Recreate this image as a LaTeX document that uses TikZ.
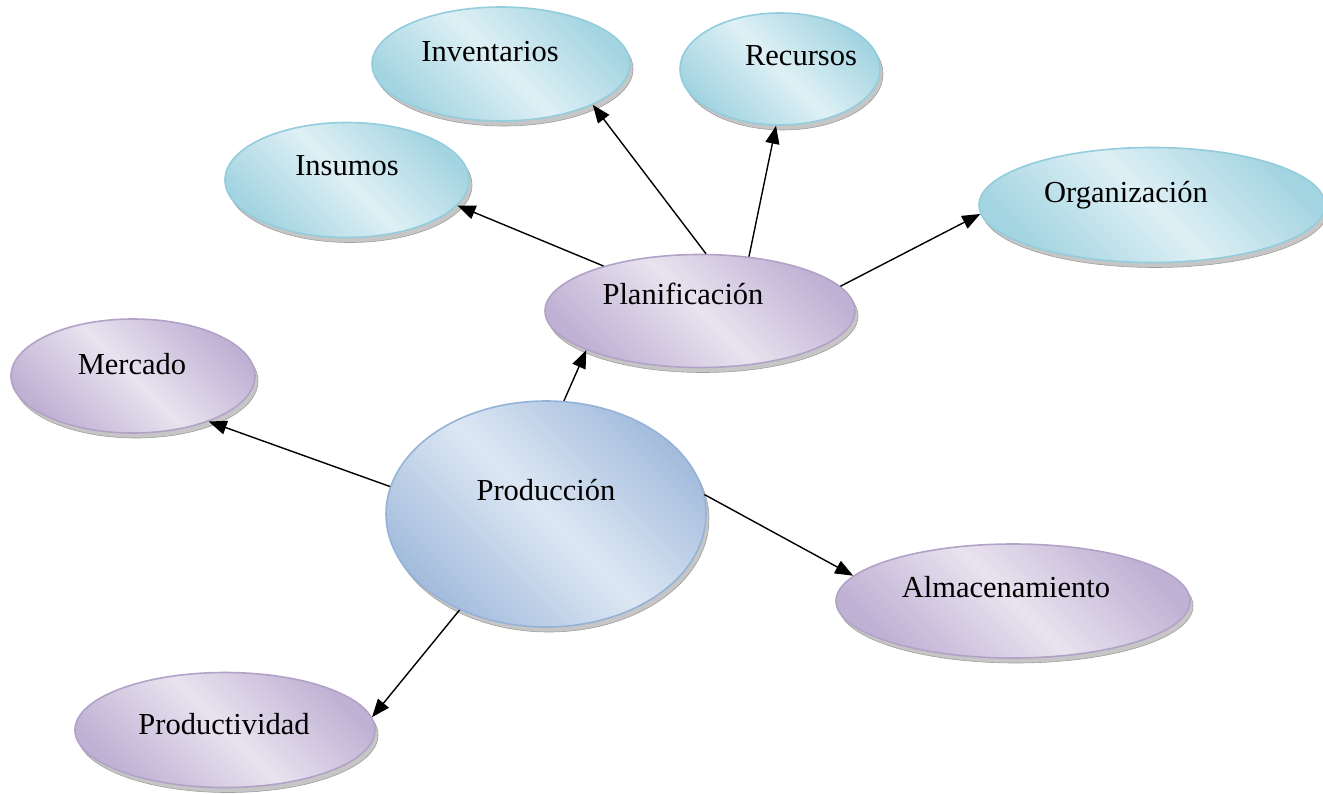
\documentclass[tikz,border=0pt]{standalone}
\usepackage{fontspec}
\setmainfont{Liberation Serif}
\usetikzlibrary{shapes.geometric,arrows.meta,shadows}
\definecolor{blueD}{HTML}{A3BCDD}
\definecolor{blueL}{HTML}{DDE7F3}
\definecolor{blueE}{HTML}{95B3D7}
\definecolor{cyanD}{HTML}{A3D4E1}
\definecolor{cyanL}{HTML}{DEF0F5}
\definecolor{cyanE}{HTML}{93CDDD}
\definecolor{purD}{HTML}{BFB1D4}
\definecolor{purL}{HTML}{E8E3EF}
\definecolor{purE}{HTML}{B3A2C7}
\tikzset{
  bubble/.style={ellipse, inner sep=0pt, line width=1.6pt,
    general shadow={shadow xshift=3pt, shadow yshift=-5pt, fill=gray!45, draw=gray!75, line width=0.6pt}},
  bluebub/.style={bubble, draw=blueE, top color=blueD, bottom color=blueD, middle color=blueL, shading angle=-45},
  cyanbub/.style={bubble, draw=cyanE, top color=cyanD, bottom color=cyanD, middle color=cyanL, shading angle=-45},
  purbub/.style={bubble, draw=purE, top color=purD, bottom color=purD, middle color=purL, shading angle=-45},
  lbl/.style={anchor=base, inner sep=0pt, font=\fontsize{30.5}{36}\selectfont},
  arr/.style={line width=1.4pt, -{Triangle[length=18pt,width=14pt]}}
}
\begin{document}
\begin{tikzpicture}[x=1pt,y=-1pt]
\useasboundingbox (0,0) rectangle (1323,793);
% ellipses
\node[cyanbub, minimum width=258pt, minimum height=114pt] (inv) at (501,64) {};
\node[cyanbub, minimum width=200pt, minimum height=112pt] (rec) at (780,69) {};
\node[cyanbub, minimum width=244pt, minimum height=115pt] (ins) at (347,180) {};
\node[cyanbub, minimum width=346pt, minimum height=115pt] (org) at (1152,205) {};
\node[purbub, minimum width=310pt, minimum height=113pt] (pla) at (700,311) {};
\node[purbub, minimum width=244pt, minimum height=114pt] (mer) at (133,376) {};
\node[bluebub, minimum width=320pt, minimum height=226pt] (pro) at (546,514) {};
\node[purbub, minimum width=354pt, minimum height=114pt] (alm) at (1013,601) {};
\node[purbub, minimum width=300pt, minimum height=115pt] (prd) at (225,730) {};
% labels
\node[lbl] (invT) at (490,61) {Inventarios};
\node[lbl] (recT) at (801,65) {Recursos};
\node[lbl] (insT) at (347,175) {Insumos};
\node[lbl] (orgT) at (1126,202) {Organización};
\node[lbl] (plaT) at (683,304) {Planificación};
\node[lbl] (merT) at (132,374) {Mercado};
\node[lbl] (proT) at (546,500) {Producción};
\node[lbl] (almT) at (1006,597) {Almacenamiento};
\node[lbl] (prdT) at (224,734) {Productividad};
% connectors
\draw[arr] (pro.81.9) -- (pla.199);
\draw[arr] (pro.170.5) -- (mer.-31.3);
\draw[arr] (pro.7.8) -- (alm.171.8);
\draw[arr] (pro.228.7) -- (prd.5.7);
\draw[arr] (pla.155.3) -- (ins.-13.9);
\draw[arr] (pla.84) -- (inv.-24.9);
\draw[arr] (pla.48.4) -- (rec.-94.6);
\draw[arr] (pla.10.3) -- (org.183.7);
\end{tikzpicture}
\end{document}
